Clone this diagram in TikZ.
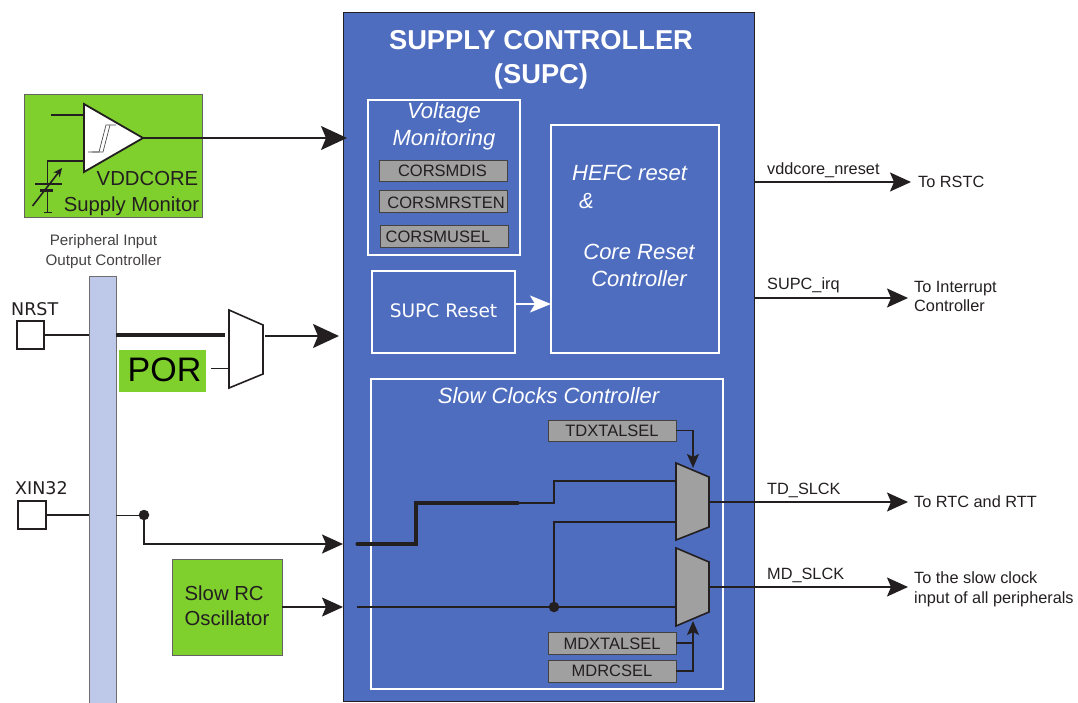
\documentclass[tikz,border=0pt]{standalone}
\usepackage{fontspec}
\setmainfont{Liberation Sans}
\newfontfamily\vfont{DejaVu Sans}
\usetikzlibrary{arrows.meta,calc}
\definecolor{supblue}{HTML}{4F6DBE}
\definecolor{supgreen}{HTML}{7FCF2D}
\definecolor{supgrey}{HTML}{A0A0A0}
\definecolor{supbar}{HTML}{BEC8E9}
\definecolor{ink}{HTML}{231F20}
\newcommand\fs[1]{\fontsize{#1}{#1}\selectfont}
\newcommand\bx[7][]{\node[boxbase,#6,minimum width={(#4-#2)*1pt},minimum height={(#5-#3)*1pt},#1] (#7) at ({(#2+#4)/2},{(#3+#5)/2}) {};}
\tikzset{
  boxbase/.style={rectangle,inner sep=0pt,outer sep=0pt},
  txt/.style={inner sep=0pt,text=ink,align=center},
  wtxt/.style={inner sep=0pt,text=white,align=center},
  whitebox/.style={draw=white,line width=1.6pt},
  regbox/.style={draw=ink!85,fill=supgrey,line width=0.9pt},
  greenbox/.style={draw=ink!70,fill=supgreen,line width=0.8pt},
  padbox/.style={draw=ink,fill=white,line width=1.3pt},
  wire/.style={draw=ink,line width=1.1pt},
  wirem/.style={draw=ink,line width=1.6pt},
  wirethick/.style={draw=ink,line width=3.05pt},
  bigarrow/.style={-{Stealth[length=26pt,width=24pt,inset=5pt]}},
  medarrow/.style={-{Stealth[length=21pt,width=19pt,inset=4pt]}},
  smallarrow/.style={-{Stealth[length=14pt,width=12pt,inset=3pt]}},
  muxshape/.style={draw=ink,line width=1.6pt,line join=miter},
  regtxt/.style={txt,font=\fs{16.5}},
  sig/.style={txt,font=\fs{16.3},anchor=west},
  dotnode/.style={circle,fill=ink,inner sep=0pt,minimum size=10.5pt},
}
\begin{document}
\begin{tikzpicture}[x=1pt,y=-1pt]
\useasboundingbox (0,0) rectangle (1078,703);
% main block
\bx{343}{12}{754}{701}{draw=ink,fill=supblue,line width=0.9pt}{supc}
\node[wtxt,font=\fs{27.3}\bfseries] (title) at (541,60) {SUPPLY CONTROLLER\\[7pt](SUPC)};
% voltage monitoring
\bx{368}{100}{520}{255}{whitebox}{vmon}
\node[wtxt,font=\fs{22}\itshape] (vtitle) at (444,126.5) {Voltage\\[5pt]Monitoring};
\bx{379}{160}{507}{181}{regbox}{rdis}
\node[regtxt] (tdis) at (442.5,170.5) {CORSMDIS};
\bx{379}{190}{507}{212}{regbox}{rrst}
\node[regtxt] (trst) at (446,203) {CORSMRSTEN};
\bx{380}{225}{508}{247}{regbox}{rusel}
\node[regtxt] (tusel) at (438,237) {CORSMUSEL};
% reset
\bx{551}{125}{719}{353}{whitebox}{hefc}
\node[wtxt,font=\fs{22}\itshape,anchor=west] (thefc) at (572,172.5) {HEFC reset};
\node[wtxt,font=\fs{22}\itshape,anchor=west] (tamp) at (579,200.5) {\&};
\node[wtxt,font=\fs{22}\itshape] (tcore) at (639,265) {Core Reset\\[5pt]Controller};
\bx{372}{271}{515}{353}{whitebox}{srst}
\node[wtxt,font=\fs{18.6}\vfont] (tsrst) at (443.5,311) {SUPC Reset};
\draw[draw=white,line width=1.6pt,-{Stealth[length=21pt,width=17pt,inset=5pt]}] (srst.east |- 0,304) -- (hefc.west |- 0,304);
% slow clocks
\bx{371}{379}{723}{689}{whitebox}{slow}
\node[wtxt,font=\fs{22}\itshape] (tslow) at (548.5,395.5) {Slow Clocks Controller};
\bx{548}{420}{676}{441}{regbox}{td}
\node[regtxt] (ttd) at (612,430.5) {TDXTALSEL};
\bx{548}{632}{676}{654}{regbox}{mdx}
\node[regtxt] (tmdx) at (612,643.5) {MDXTALSEL};
\bx{548}{660}{676}{682}{regbox}{mdr}
\node[regtxt] (tmdr) at (612,671) {MDRCSEL};
% left green block
\bx{24}{94}{202}{217}{greenbox}{smon}
\node[txt,font=\fs{20.3}] (tvdd) at (147.5,178.5) {VDDCORE};
\node[txt,font=\fs{20.3}] (tsup) at (131.5,206) {Supply Monitor};
\coordinate (cA) at (84,104);
\coordinate (cB) at (84,172);
\coordinate (cT) at (143,138);
\coordinate (cIn1) at (84,115);
\coordinate (cIn1L) at (51,115);
\coordinate (cIn2) at (84,161);
\coordinate (cCorner) at (47.5,161);
\coordinate (cPlateT) at (47.5,184);
\coordinate (cPlateB) at (47.5,190);
\coordinate (cFoot) at (47.5,212);
\draw[fill=white,draw=ink,line width=1.8pt] (cA) -- (cT) -- (cB) -- cycle;
\draw[draw=ink!80,line width=0.7pt] (88,152) -- (99,152) -- (106,125) -- (116,125);
\draw[draw=ink!80,line width=0.7pt] (92,152) -- (103,152) -- (110,125);
\draw[wirem] (cIn1L) -- (cIn1);
\draw[wirem] (cIn2) -- (cCorner) -- (cPlateT);
\draw[wirem] (35,184) -- (62,184);
\draw[draw=ink,line width=3pt] (40,190.5) -- (53,190.5);
\draw[wirem] (cPlateB) -- (cFoot);
\draw[wirem] (44,212.5) -- (52,212.5);
\draw[wirem,-{Stealth[length=9pt,width=8pt]}] (32.5,206) -- (62,168);
\draw[wirem,bigarrow] (cT) -- (347,138);
% PIO bar
\node[txt,font=\fs{15.2},text=ink!85] (tpio) at (103.5,251.5) {Peripheral Input\\[4pt]Output Controller};
\bx{89}{276}{116}{709}{draw=ink!65,fill=supbar,line width=1pt}{bar}
% NRST
\bx{17}{321}{44}{349}{padbox}{nrst}
\node[txt,font=\fs{17.5}\vfont,anchor=west] (tnrst) at (11,309.5) {NRST};
\draw[wire] (nrst.east) -- (bar.west |- nrst.east);
\coordinate (m1a) at (229,310);
\coordinate (m1b) at (263,325);
\coordinate (m1c) at (263,374);
\coordinate (m1d) at (229,388);
\coordinate (m1in) at (225,335);
\coordinate (m1in2) at (229,368);
\coordinate (m1out) at (265,336);
\draw[muxshape,fill=white] (m1a) -- (m1b) -- (m1c) -- (m1d) -- cycle;
\draw[wirethick] (bar.east |- nrst.east) -- (m1in);
\bx{119}{350}{206}{392}{fill=supgreen}{por}
\node[txt,font=\fs{34},text=black] (tpor) at (164.5,369.5) {POR};
\draw[draw=ink,line width=0.8pt] (211,368) -- (m1in2);
\draw[wirem,bigarrow] (m1out) -- (339,336);
% XIN32
\bx{18}{501}{46}{529}{padbox}{xin}
\node[txt,font=\fs{17.5}\vfont,anchor=west] (txin) at (15,488.5) {XIN32};
\draw[wire] (xin.east) -- (bar.west |- xin.east);
\node[dotnode] (xdot) at (144,515) {};
\draw[draw=ink,line width=0.9pt] (bar.east |- xin.east) -- (xdot);
\draw[wirem,medarrow] (xdot) -- (144,544) -- (343,544);
\bx{172}{559}{282}{655}{greenbox}{rc}
\node[txt,font=\fs{20.3},align=left,anchor=west] (trc) at (184.5,605.5) {Slow RC\\[5pt]Oscillator};
\draw[wirem,medarrow] (rc.east |- 0,607) -- (343,607);
% muxes
\coordinate (m2a) at (676,463);
\coordinate (m2b) at (709,477);
\coordinate (m2c) at (709,527);
\coordinate (m2d) at (676,540);
\coordinate (m3a) at (676,548);
\coordinate (m3b) at (709,562);
\coordinate (m3c) at (709,612);
\coordinate (m3d) at (676,626);
\draw[wirethick,line join=miter,line cap=round] (357,544) -- (416,544) -- (416,503) -- (518,503);
\draw[wirem] (518,503) -- (554,503) -- (554,481) -- (676,481);
\node[dotnode] (mdot) at (554,607) {};
\draw[wirem] (mdot) -- (554,522) -- (676,522);
\draw[wirem] (357,607) -- (676,607);
\draw[muxshape,fill=supgrey] (m2a) -- (m2b) -- (m2c) -- (m2d) -- cycle;
\draw[muxshape,fill=supgrey] (m3a) -- (m3b) -- (m3c) -- (m3d) -- cycle;
\draw[wirem,smallarrow] (td.east) -- (693,430.5) -- (693,468);
\draw[wirem] (mdx.east) -- (693,643);
\draw[wirem,smallarrow] (mdr.east) -- (693,671) -- (693,621);
% outputs
\coordinate (outA) at (709,502);
\coordinate (outB) at (709,587);
\draw[wirem,medarrow] (outA) -- (908,502);
\draw[wirem,medarrow] (outB) -- (908,587);
\draw[wirem,medarrow] (supc.east |- 0,182) -- (911,182);
\draw[wirem,medarrow] (supc.east |- 0,298) -- (908,298);
\node[sig] (lv) at (767,170.5) {vddcore\_nreset};
\node[sig] (lirq) at (767,285.5) {SUPC\_irq};
\node[sig] (ltd) at (767,490) {TD\_SLCK};
\node[sig] (lmd) at (767,575) {MD\_SLCK};
\node[sig] (ta) at (918,181.5) {To RSTC};
\node[sig,align=left] (tb) at (914,296.5) {To Interrupt\\[3pt]Controller};
\node[sig,align=left] (tc) at (914,502) {To RTC and RTT};
\node[sig,align=left] (td2) at (914,589.5) {To the slow clock\\[3.5pt]input of all peripherals};
\end{tikzpicture}
\end{document}
